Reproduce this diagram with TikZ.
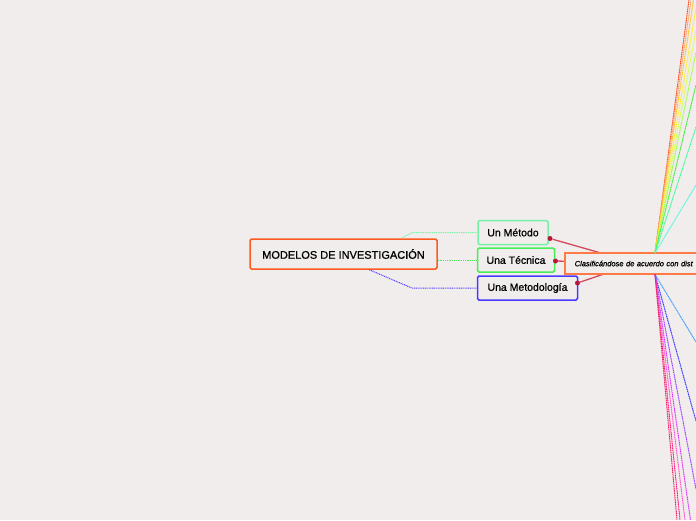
\documentclass[tikz,border=0pt]{standalone}
\usepackage{fontspec}
\setmainfont{Liberation Sans}
\newfontfamily\medfont{Liberation Sans}[FakeBold=0.8]
\usetikzlibrary{calc}
\definecolor{bg}{HTML}{F2EDED}
\definecolor{mainc}{HTML}{FF5A1F}
\definecolor{clasc}{HTML}{FF7A45}
\definecolor{metc}{HTML}{77F0A8}
\definecolor{tecc}{HTML}{44EE55}
\definecolor{mtgc}{HTML}{4A3AFF}
\definecolor{redc}{HTML}{D24A5A}
\definecolor{dotc}{HTML}{B5173A}
\begin{document}
\begin{tikzpicture}[x=1pt,y=-1pt,
  box/.style={draw, rounded corners=1.5pt, line width=1.5pt, fill=bg, inner sep=0pt,
    minimum height=24pt, font=\medfont\fontsize{10.5}{12}\selectfont},
  dotline/.style={line width=1pt, dash pattern=on 1pt off 0.8pt},
  redline/.style={draw=redc, line width=1.3pt},
  hubdot/.style={circle, fill=dotc, inner sep=0pt, minimum size=5pt},
  fan/.style={line width=1pt, dash pattern=on 1.2pt off 0.6pt}]
\useasboundingbox (0,0) rectangle (696,520);
\clip (0,0) rectangle (696,520);
\fill[bg] (0,0) rectangle (696,520);

% nodes
\node[box, draw=mainc, minimum width=187pt, minimum height=30pt,
  font=\medfont\fontsize{11}{13}\selectfont] (main) at (343.5,254) {MODELOS DE INVESTIGACIÓN};
\node[box, draw=metc, minimum width=70pt] (metodo) at (513,232.5) {Un Método};
\node[box, draw=tecc, minimum width=77pt] (tecnica) at (516,260) {Una Técnica};
\node[box, draw=mtgc, minimum width=100pt] (metodologia) at (527.5,288) {Una Metodología};

% connectors from main
\draw[dotline, draw=metc] ($(main.north west)+(152,0)$) -- ([xshift=-65pt]metodo.west) -- (metodo.west);
\draw[dotline, draw=tecc] (main.east |- tecnica.west) -- (tecnica.west);
\draw[dotline, draw=mtgc] ($(main.south west)+(120,0)$) -- ([xshift=-65pt]metodologia.west) -- (metodologia.west);

% red connectors to classification node
\coordinate (hub) at (636,263);
\node[hubdot] (d1) at (550,238.5) {};
\node[hubdot] (d2) at (555.5,261) {};
\node[hubdot] (d3) at (577.5,283) {};
\draw[redline] (d1) -- (hub);
\draw[redline] (d3) -- (hub);
\draw[redline] (d2) -- (hub);

\node[draw=clasc, line width=1.5pt, fill=bg, anchor=west, inner xsep=10pt, inner ysep=0pt,
  minimum height=21pt, text width=200pt, align=left,
  font=\medfont\fontsize{7.5}{9}\selectfont\itshape] (clas) at (564,263.5) {Clasificándose de acuerdo con dist};

% fan lines
\coordinate (ftop) at (655,253);
\coordinate (fbot) at (655,274.5);
\foreach \c/\p in {{FF4A10}/{689,0}, {FF9E70}/{691,0}, {FFC21A}/{693.5,0}, {FFEE22}/{696,8},
  {D8FF44}/{696,30}, {99FF44}/{696,52}, {33EE33}/{696,85}, {33FF99}/{696,127}, {55F5E0}/{696,185}}{
  \definecolor{fc}{HTML}{\c}
  \draw[fan, draw=fc] (ftop) -- (\p);
}
\foreach \c/\p in {{3FA0FF}/{696,342}, {3A3AFF}/{696,421}, {9A44FF}/{696,489}, {DD33FF}/{690.5,520},
  {FF55CC}/{685,520}, {FF1A80}/{680,520}, {EE2266}/{677,520}}{
  \definecolor{fc}{HTML}{\c}
  \draw[fan, draw=fc] (fbot) -- (\p);
}
\end{tikzpicture}
\end{document}
